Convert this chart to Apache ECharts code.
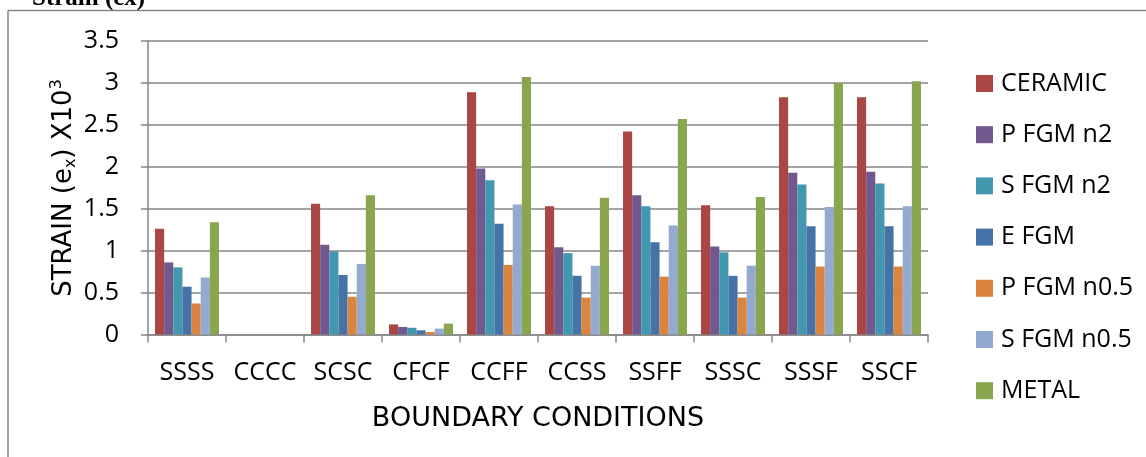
<!DOCTYPE html>
<html>
<head>
<meta charset="utf-8">
<script src="https://cdn.jsdelivr.net/npm/echarts@6/dist/echarts.min.js"></script>
<style>
html,body{margin:0;padding:0;background:#fff;}
#chart{width:1146px;height:457px;}
</style>
</head>
<body>
<div id="chart"></div>
<script>
const categories = ['SSSS','CCCC','SCSC','CFCF','CCFF','CCSS','SSFF','SSSC','SSSF','SSCF'];
const seriesNames = ['CERAMIC','P FGM n2','S FGM n2','E FGM','P FGM n0.5','S FGM n0.5','METAL'];
const ceramic  = [1.26, 0, 1.56, 0.12, 2.89, 1.53, 2.42, 1.54, 2.83, 2.83];
const pFgmN2   = [0.86, 0, 1.07, 0.09, 1.98, 1.04, 1.66, 1.05, 1.93, 1.94];
const sFgmN2   = [0.80, 0, 0.99, 0.08, 1.84, 0.97, 1.53, 0.98, 1.79, 1.80];
const eFgm     = [0.57, 0, 0.71, 0.05, 1.32, 0.70, 1.10, 0.70, 1.29, 1.29];
const pFgmN05  = [0.37, 0, 0.45, 0.03, 0.83, 0.44, 0.69, 0.44, 0.81, 0.81];
const sFgmN05  = [0.68, 0, 0.84, 0.07, 1.55, 0.82, 1.30, 0.82, 1.52, 1.53];
const metal    = [1.34, 0, 1.66, 0.13, 3.07, 1.63, 2.57, 1.64, 3.00, 3.02];
const yTicks = { min: 0, max: 3.5, interval: 0.5 };
const colors = ['#AA4643','#71588F','#4198AF','#4572A7','#DB843D','#93A9CF','#89A54E'];
const allData = [ceramic, pFgmN2, sFgmN2, eFgm, pFgmN05, sFgmN05, metal];

const chart = echarts.init(document.getElementById('chart'), null, {renderer:'canvas'});
const grey = '#868686';
const tickFont = {fontFamily:'Open Sans', fontSize:25, color:'#000'};
const titleFont = {fontFamily:'DejaVu Sans', fontSize:27, color:'#000'};

chart.setOption({
  animation:false,
  backgroundColor:'#fff',
  color: colors,
  graphic:[
    {type:'line', shape:{x1:8,y1:10.5,x2:1146,y2:10.5}, style:{stroke:grey,lineWidth:1.5}},
    {type:'line', shape:{x1:8,y1:10.5,x2:8,y2:457}, style:{stroke:grey,lineWidth:1.5}},
    {type:'text', left:32, top:-14, style:{text:'Strain (ex)', font:'bold 25px "Liberation Serif"', fill:'#000'}},
    {type:'text', x:64, y:188, rotation:Math.PI/2,
      style:{
        text:'{a|STRAIN (e}{sub|x}{a|) X10}{sup|3}',
        align:'center', verticalAlign:'middle',
        rich:{
          a:{fontFamily:'DejaVu Sans', fontSize:26, fill:'#000', lineHeight:34, verticalAlign:'middle'},
          sub:{fontFamily:'DejaVu Sans', fontSize:16, fill:'#000', lineHeight:34, verticalAlign:'bottom', padding:[0,0,2,0]},
          sup:{fontFamily:'DejaVu Sans', fontSize:16, fill:'#000', lineHeight:34, verticalAlign:'top', padding:[2,0,0,0]}
        }
      }
    }
  ],
  grid:{left:148, right:218, top:41, bottom:122.5, containLabel:false},
  legend:{
    orient:'vertical', left:971, top:66,
    itemWidth:17, itemHeight:17, itemGap:26.2, icon:'rect',
    textStyle:Object.assign({padding:[0,0,0,3]}, tickFont),
    data: seriesNames
  },
  xAxis:{
    type:'category', data:categories,
    name:'BOUNDARY CONDITIONS', nameLocation:'middle', nameGap:71,
    nameTextStyle:titleFont,
    axisLine:{lineStyle:{color:grey,width:1.5}},
    axisTick:{show:true, alignWithLabel:false, length:8, lineStyle:{color:grey,width:1.5}},
    axisLabel:Object.assign({margin:26, interval:0}, tickFont),
    splitLine:{show:false}
  },
  yAxis:{
    type:'value', min:yTicks.min, max:yTicks.max, interval:yTicks.interval,
    axisLine:{show:true, lineStyle:{color:grey,width:1.5}},
    axisTick:{show:true, length:7, lineStyle:{color:grey,width:1.5}},
    axisLabel:Object.assign({margin:29}, tickFont),
    splitLine:{show:true, lineStyle:{color:grey,width:1.5}}
  },
  series: seriesNames.map((n,i)=>({
    name:n, type:'bar', data:allData[i],
    barGap:'0%', barCategoryGap:'18%',
    itemStyle:{color:colors[i]}
  }))
});
</script>
</body>
</html>
